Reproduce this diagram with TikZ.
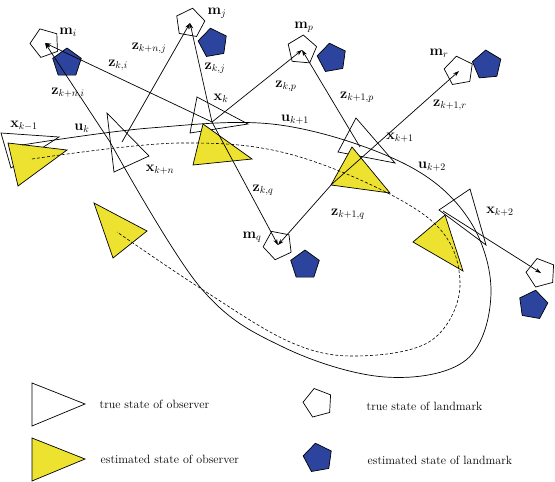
\documentclass[tikz,border=0pt]{standalone}
\usepackage{tikz}
\usepackage{amsmath}
\usetikzlibrary{shapes.geometric,arrows.meta}

\definecolor{estyellow}{RGB}{238,226,48}
\definecolor{estblue}{RGB}{45,68,158}

\begin{document}
\begin{tikzpicture}[
       x=1pt, y=-1pt,
       line width=0.7pt,
       truetri/.style={draw, fill=white},
       esttri/.style={draw, fill=estyellow},
       landmark/.style={
         regular polygon,
         regular polygon sides=5,
         draw,
         inner sep=0pt,
         minimum size=30pt
       },
       trueland/.style={landmark, fill=white},
       estland/.style={landmark, fill=estblue},
       lbl/.style={font=\Large, inner sep=1pt},
       meas/.style={-{Stealth[length=6pt,width=4pt]}}
     ]

       \useasboundingbox (0,0) rectangle (555,482);

       % true states of observer
       \draw[truetri] (1,133) -- (59,137) -- (11,168) -- cycle;
       \draw[truetri] (197,97) -- (248,124) -- (190,133) -- cycle;
       \draw[truetri] (107,113) -- (149,156) -- (114,172) -- cycle;
       \draw[truetri] (356,118) -- (395,163) -- (338,152) -- cycle;
       \draw[truetri] (470,189) -- (486,245) -- (439,210) -- cycle;

       % estimated states of observer
       \draw[esttri] (8,143) -- (67,150) -- (18,186) -- cycle;
       \draw[esttri] (203,124) -- (252,159) -- (193,165) -- cycle;
       \draw[esttri] (94,203) -- (147,231) -- (113,258) -- cycle;
       \draw[esttri] (352,147) -- (390,193) -- (331,185) -- cycle;
       \draw[esttri] (445,215) -- (463,271) -- (413,242) -- cycle;

       % landmarks
       \node (mi) at (45,43) [trueland, rotate=20]{};
       \node (ei) at (67,63) [estland]{};
       \node (mj) at (190,23) [trueland, rotate=-10]{};
       \node (ej) at (213,43) [estland, rotate=10]{};
       \node (mp) at (302,50) [trueland, rotate=-5]{};
       \node (ep) at (332,58) [estland, rotate=10]{};
       \node (mr) at (459,71) [trueland, rotate=10]{};
       \node (er) at (487,65) [estland, rotate=5]{};
       \node (mq) at (278,245) [trueland, rotate=25]{};
       \node (eq) at (305,265) [estland]{};
       \node (ms) at (541,273) [trueland, rotate=15]{};
       \node (es) at (533,305) [estland, rotate=-10]{};

       % trajectories
       \draw plot[smooth, tension=0.6] coordinates {(22,145) (150,128) (280,125)
         (403,163) (468,218) (491,292) (466,360) (385,377) (283,347) (200,287)
         (110,142)};
       \draw[dash pattern=on 3pt off 2pt, line width=0.6pt] plot[smooth, tension=0.6]
         coordinates {(32,159) (180,143) (300,157) (427,217) (460,282) (432,340)
         (357,356) (290,342) (200,288) (117,232)};

       % observer positions
       \coordinate (xk) at (212,122);
       \coordinate (xkn) at (122,142);
       \coordinate (xknt) at (110,142);
       \coordinate (xk1) at (360,147);
       \coordinate (xk1e) at (332,184);
       \coordinate (xk2) at (443,211);

       % measurements
       \draw[meas] (xk) -- (mi.center);
       \draw[meas] (xk) -- (mj.center);
       \draw[meas] (xk) -- (mp.center);
       \draw[meas] (xk) -- (mq.center);
       \draw[meas] (xknt) -- (mi.center);
       \draw[meas] (xkn) -- (mj.center);
       \draw[meas] (xk1) -- (mp.center);
       \draw[meas] (xk1e) -- (mr.center);
       \draw[meas] (xk1e) -- (mq.center);
       \draw[meas] (xk2) -- (ms.center);

       % labels
       \node[lbl] (lmi) at (68,32) {$\mathbf{m}_i$};
       \node[lbl] (lmj) at (217,13) {$\mathbf{m}_j$};
       \node[lbl] (lmp) at (304,27) {$\mathbf{m}_p$};
       \node[lbl] (lmr) at (439,53) {$\mathbf{m}_r$};
       \node[lbl] (lmq) at (252,237) {$\mathbf{m}_q$};
       \node[lbl] (lxkm1) at (24,126) {$\mathbf{x}_{k-1}$};
       \node[lbl] (lxk) at (221,98) {$\mathbf{x}_k$};
       \node[lbl] (lxkn) at (160,170) {$\mathbf{x}_{k+n}$};
       \node[lbl] (lxk1) at (400,138) {$\mathbf{x}_{k+1}$};
       \node[lbl] (lxk2) at (500,212) {$\mathbf{x}_{k+2}$};
       \node[lbl] (luk) at (82,128) {$\mathbf{u}_k$};
       \node[lbl] (luk1) at (295,120) {$\mathbf{u}_{k+1}$};
       \node[lbl] (luk2) at (432,167) {$\mathbf{u}_{k+2}$};
       \node[lbl] (lzki) at (118,65) {$\mathbf{z}_{k,i}$};
       \node[lbl] (lzkni) at (68,93) {$\mathbf{z}_{k+n,i}$};
       \node[lbl] (lzknj) at (149,48) {$\mathbf{z}_{k+n,j}$};
       \node[lbl] (lzkj) at (215,68) {$\mathbf{z}_{k,j}$};
       \node[lbl] (lzkp) at (286,86) {$\mathbf{z}_{k,p}$};
       \node[lbl] (lzk1p) at (357,97) {$\mathbf{z}_{k+1,p}$};
       \node[lbl] (lzk1r) at (450,105) {$\mathbf{z}_{k+1,r}$};
       \node[lbl] (lzkq) at (263,190) {$\mathbf{z}_{k,q}$};
       \node[lbl] (lzk1q) at (348,214) {$\mathbf{z}_{k+1,q}$};

       % legend
       \draw[truetri] (32,383) -- (85,404) -- (32,426) -- cycle;
       \draw[esttri] (32,438) -- (85,459) -- (32,481) -- cycle;
       \node (ltl) at (318,403) [trueland, rotate=15]{};
       \node (lel) at (318,458) [estland, rotate=10]{};
       \node[anchor=west, font=\large] (ttrueobs) at (96,404) {true state of observer};
       \node[anchor=west, font=\large] (testobs) at (97,459) {estimated state of observer};
       \node[anchor=west, font=\large] (ttrueland) at (363,406) {true state of landmark};
       \node[anchor=west, font=\large] (testland) at (364,460) {estimated state of landmark};

\end{tikzpicture}
\end{document}
